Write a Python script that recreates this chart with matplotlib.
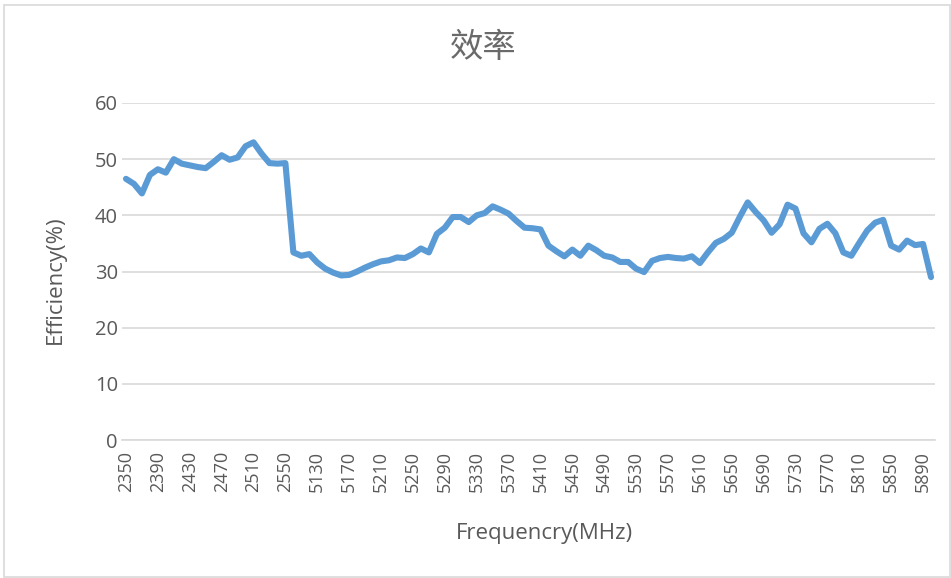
import matplotlib
matplotlib.use("Agg")
import matplotlib.pyplot as plt
from matplotlib.patches import Rectangle

# frequency points (MHz): 2.4 GHz band then 5 GHz band
freq_low = list(range(2350, 2551, 10))
freq_high = list(range(5100, 5901, 10))
freqs = freq_low + freq_high

efficiency = [
    46.5, 45.6, 43.9, 47.2, 48.2, 47.6, 50.0, 49.2, 48.9, 48.6,
    48.4, 49.5, 50.7, 49.9, 50.3, 52.3, 53.0, 51.0, 49.3, 49.2,
    49.3, 33.4, 32.8, 33.1, 31.6, 30.5, 29.8, 29.3, 29.4, 30.0,
    30.7, 31.3, 31.8, 32.0, 32.5, 32.4, 33.1, 34.1, 33.4, 36.7,
    37.8, 39.7, 39.7, 38.8, 40.0, 40.4, 41.6, 41.0, 40.3, 39.0,
    37.8, 37.7, 37.5, 34.6, 33.6, 32.7, 33.9, 32.8, 34.6, 33.8,
    32.8, 32.5, 31.7, 31.7, 30.5, 29.9, 31.9, 32.4, 32.6, 32.4,
    32.3, 32.7, 31.5, 33.4, 35.1, 35.8, 36.9, 39.7, 42.3, 40.6,
    39.1, 36.9, 38.4, 41.9, 41.2, 36.8, 35.2, 37.6, 38.5, 36.8,
    33.4, 32.8, 35.1, 37.3, 38.7, 39.2, 34.6, 33.9, 35.5, 34.7,
    34.9, 29.0,
]

yticks = [0, 10, 20, 30, 40, 50, 60]

text_color = "#595959"
grid_color = "#D9D9D9"
line_color = "#5B9BD5"

plt.rcParams['font.family'] = ['Open Sans', 'DejaVu Sans']

fig = plt.figure(figsize=(9.51, 5.78), dpi=100)
ax = fig.add_axes([122 / 951, 1 - 440 / 578, 813 / 951, 337 / 578])

x = list(range(len(freqs)))
ax.plot(x, efficiency, color=line_color, linewidth=4.4, solid_joinstyle="round",
        solid_capstyle="round", zorder=3)

ax.set_xlim(-0.5, len(freqs) - 0.5)
ax.set_ylim(0, 60)
ax.set_yticks(yticks)
ax.set_xticks(x[::4])
ax.set_xticklabels([str(f) for f in freqs[::4]], rotation=90)

ax.grid(axis="y", color=grid_color, linewidth=1.2)
ax.set_axisbelow(True)
for side in ["top", "right", "left"]:
    ax.spines[side].set_visible(False)
ax.spines["bottom"].set_color(grid_color)
ax.spines["bottom"].set_linewidth(1.2)
ax.tick_params(axis="both", length=0, colors=text_color)
ax.tick_params(axis="y", labelsize=14.5, pad=3)
ax.tick_params(axis="x", labelsize=13, pad=8)

fig.text(0.508, 1 - 47 / 578, "效率", ha="center", va="center", fontsize=24,
         color="#6a6a6a", fontweight="light",
         family=['Noto Sans CJK SC', 'DejaVu Sans'])
fig.text(544 / 951, 1 - 533 / 578, "Frequencry(MHz)", ha="center", va="center",
         fontsize=16, color=text_color)
fig.text(55 / 951, 1 - 280 / 578, "Efficiency(%)", ha="center", va="center",
         rotation=90, fontsize=16, color=text_color)

# chart border
fig.patches.append(Rectangle((4 / 951, 0.002), 1 - 5 / 951, 1 - 6 / 578,
                             transform=fig.transFigure, fill=False,
                             edgecolor=grid_color, linewidth=1.2))

fig.savefig("out.png", dpi=100)
